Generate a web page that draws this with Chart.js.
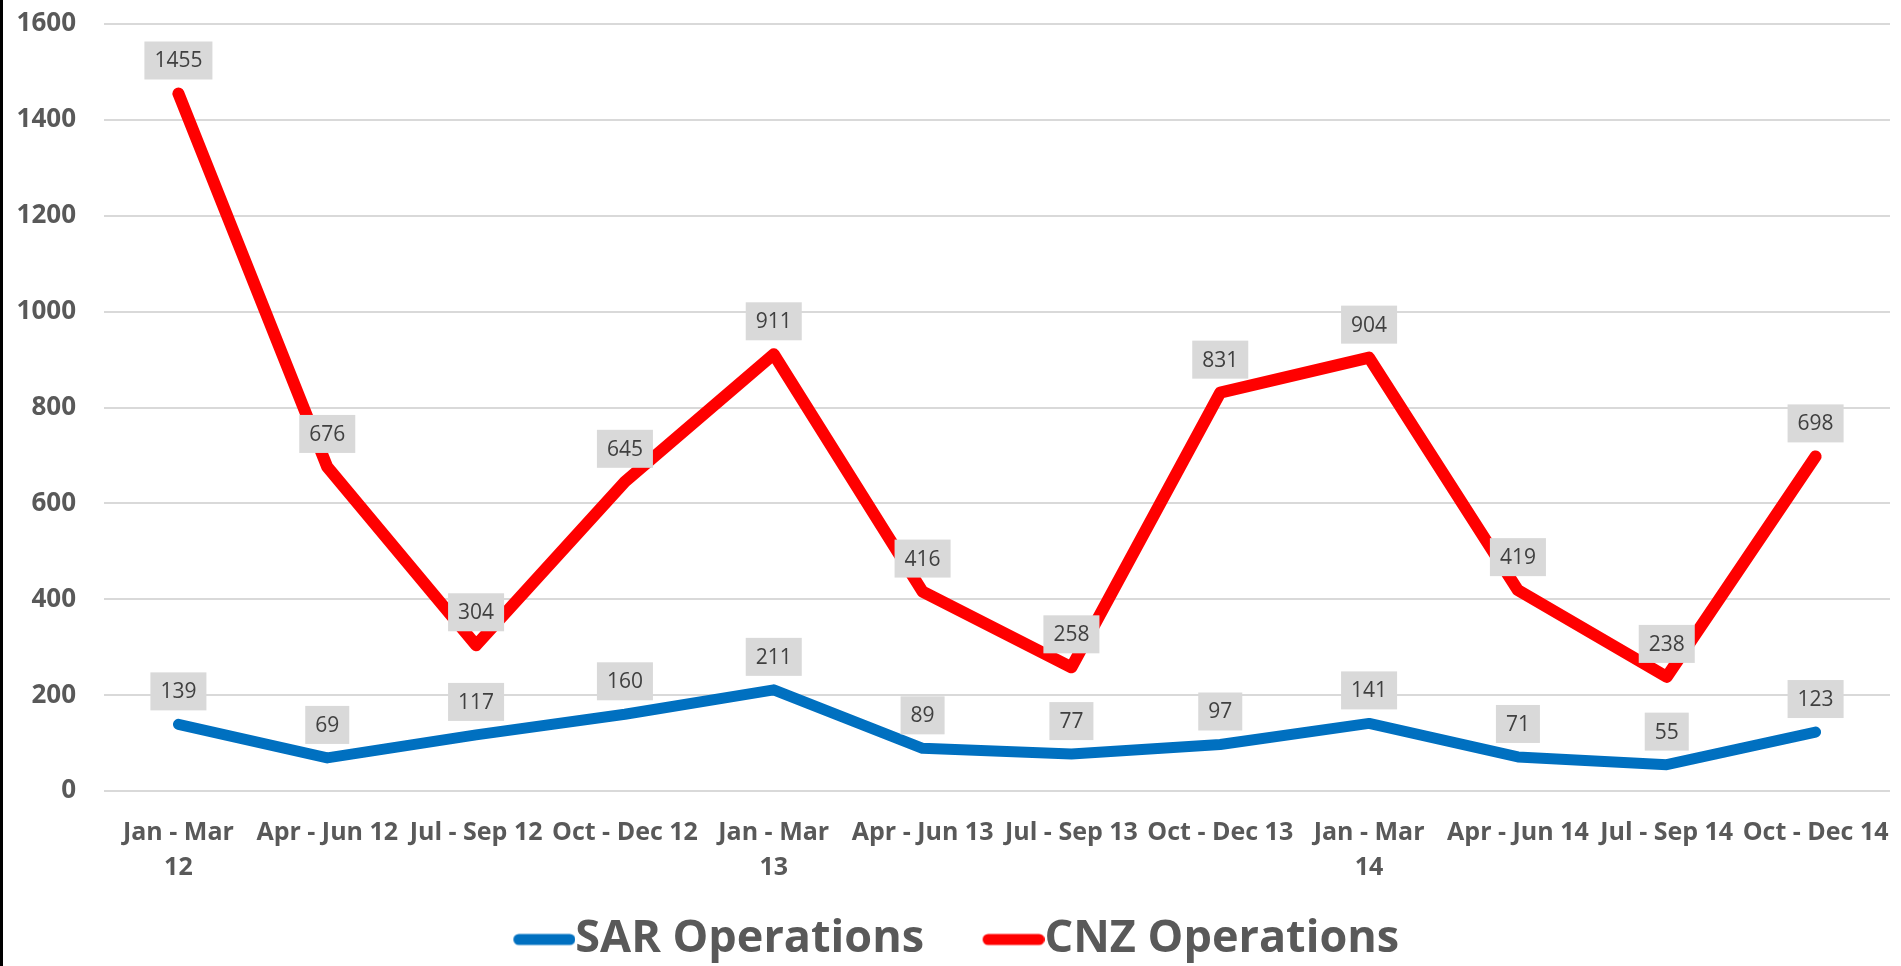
<!DOCTYPE html>
<html>
<head>
<meta charset="utf-8">
<script src="https://cdn.jsdelivr.net/npm/chart.js@4"></script>
<style>
  html, body { margin: 0; padding: 0; background: #fff; }
  #wrap { position: relative; width: 1901px; height: 966px; }
  #edge { position: absolute; left: 0; top: 0; width: 3px; height: 966px; background: #000; }
  canvas { position: absolute; left: 0; top: 0; }
</style>
</head>
<body>
<div id="wrap">
  <canvas id="grafico" width="1901" height="966"></canvas>
  <div id="edge"></div>
</div>
<script>
// quarters
var trimestri = [
  ['Jan - Mar', '12'], 'Apr - Jun 12', 'Jul - Sep 12', 'Oct - Dec 12',
  ['Jan - Mar', '13'], 'Apr - Jun 13', 'Jul - Sep 13', 'Oct - Dec 13',
  ['Jan - Mar', '14'], 'Apr - Jun 14', 'Jul - Sep 14', 'Oct - Dec 14'
];
var sar_operations = [139, 69, 117, 160, 211, 89, 77, 97, 141, 71, 55, 123];
var cnz_operations = [1455, 676, 304, 645, 911, 416, 258, 831, 904, 419, 238, 698];
var asse_y = { min: 0, max: 1600, step: 200 };

var FONT = '"Open Sans", "Noto Sans", sans-serif';
var grigio = '#595959';
var LEG_FONT = 45;

// legend marker: a thick rounded stroke that runs right up to the text
function segnoLegenda(colore) {
  var c = document.createElement('canvas');
  var box = 62, gap = LEG_FONT / 2;
  c.width = box + 2 * gap;
  c.height = 14;
  var g = c.getContext('2d');
  g.strokeStyle = colore;
  g.lineWidth = 11;
  g.lineCap = 'round';
  g.beginPath();
  g.moveTo(2 * gap + 5.5, 7);
  g.lineTo(c.width - 5.5, 7);
  g.stroke();
  return c;
}

// data labels in grey boxes, drawn over the lines
var etichette = {
  id: 'etichette',
  afterDatasetsDraw: function(chart) {
    var ctx = chart.ctx;
    ctx.save();
    ctx.font = '21px ' + FONT;
    ctx.textAlign = 'center';
    ctx.textBaseline = 'middle';
    chart.data.datasets.forEach(function(ds, i) {
      var meta = chart.getDatasetMeta(i);
      meta.data.forEach(function(pt, j) {
        var txt = String(ds.data[j]);
        var w = ctx.measureText(txt).width + 20;
        var h = 38;
        var cy = pt.y - 33;
        ctx.fillStyle = '#d9d9d9';
        ctx.fillRect(pt.x - w / 2, cy - h / 2, w, h);
        ctx.fillStyle = '#404040';
        ctx.fillText(txt, pt.x, cy + 1);
      });
    });
    ctx.restore();
  }
};

var ctx = document.getElementById('grafico').getContext('2d');
window.graficoLinee = new Chart(ctx, {
  type: 'line',
  data: {
    labels: trimestri,
    datasets: [{
      label: 'SAR Operations',
      data: sar_operations,
      borderColor: '#0070C0',
      backgroundColor: '#0070C0',
      borderWidth: 11,
      borderCapStyle: 'round',
      borderJoinStyle: 'round',
      pointRadius: 0,
      fill: false,
      tension: 0
    }, {
      label: 'CNZ Operations',
      data: cnz_operations,
      borderColor: '#FF0000',
      backgroundColor: '#FF0000',
      borderWidth: 12,
      borderCapStyle: 'round',
      borderJoinStyle: 'round',
      pointRadius: 0,
      fill: false,
      tension: 0
    }]
  },
  options: {
    responsive: false,
    animation: false,
    devicePixelRatio: 1,
    layout: { padding: { top: 24, right: 11, bottom: -6, left: 0 } },
    plugins: {
      tooltip: { enabled: false },
      legend: {
        position: 'bottom',
        labels: {
          usePointStyle: true,
          pointStyleWidth: 62,
          boxWidth: 62,
          padding: 36,
          color: grigio,
          font: { family: FONT, size: LEG_FONT, weight: 'bold' },
          generateLabels: function(chart) {
            var items = Chart.defaults.plugins.legend.labels.generateLabels(chart);
            items.forEach(function(it) {
              it.pointStyle = segnoLegenda(chart.data.datasets[it.datasetIndex].borderColor);
            });
            return items;
          }
        }
      }
    },
    scales: {
      x: {
        offset: true,
        afterFit: function(scale) {
          scale.height = 90;
          scale.paddingLeft = 0;
          scale.paddingRight = 0;
        },
        grid: { display: false, drawTicks: false },
        border: { display: false },
        ticks: {
          autoSkip: false,
          maxRotation: 0,
          padding: 24,
          color: grigio,
          font: { family: FONT, size: 25, weight: 'bold', lineHeight: 1.4 }
        }
      },
      y: {
        min: asse_y.min,
        max: asse_y.max,
        afterFit: function(scale) {
          scale.width = 104;
          scale.paddingTop = 0;
          scale.paddingBottom = 0;
        },
        grid: { color: '#d9d9d9', lineWidth: 2, drawTicks: false },
        border: { display: false },
        ticks: {
          stepSize: asse_y.step,
          padding: 28,
          color: grigio,
          font: { family: FONT, size: 26, weight: 'bold' },
          callback: function(v) { return String(v); }
        }
      }
    }
  },
  plugins: [etichette]
});
</script>
</body>
</html>
